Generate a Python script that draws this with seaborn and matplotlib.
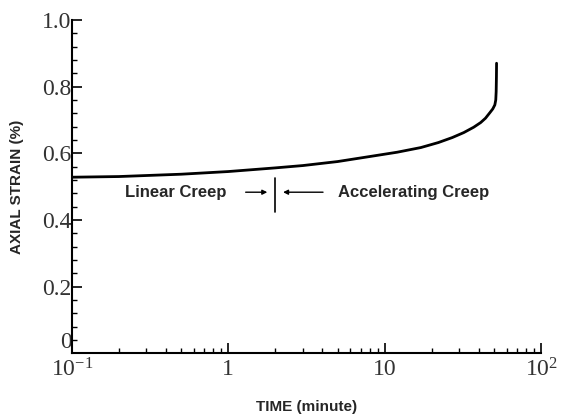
import matplotlib
matplotlib.use("Agg")
import matplotlib.pyplot as plt
import seaborn as sns
import pandas as pd
import numpy as np
from matplotlib.ticker import FixedLocator, LogLocator, NullFormatter

sns.set_theme(style="ticks")
plt.rcParams["mathtext.fontset"] = "custom"
plt.rcParams["mathtext.rm"] = "Liberation Serif"
plt.rcParams["mathtext.it"] = "Liberation Serif:italic"
plt.rcParams["mathtext.bf"] = "Liberation Serif:bold"

time_min = [0.1, 0.2, 0.5, 1.0, 2.0, 3.0, 5.0, 8.0, 12.0, 17.0, 22.0, 27.0, 32.0,
            37.0, 41.0, 44.0, 47.0, 49.0, 50.5, 51.2, 51.5, 51.7, 51.8]
axial_strain = [0.528, 0.530, 0.537, 0.545, 0.556, 0.563, 0.575, 0.590, 0.603, 0.617,
                0.632, 0.647, 0.662, 0.678, 0.692, 0.705, 0.722, 0.733, 0.745, 0.760,
                0.785, 0.830, 0.870]
x_ticks = [0.1, 1, 10, 100]
x_tick_labels = ["$\\mathregular{10^{-1}}$", "1", "10", "$\\mathregular{10^{2}}$"]
y_ticks = [0, 0.2, 0.4, 0.6, 0.8, 1.0]
y_tick_labels = ["0", "0.2", "0.4", "0.6", "0.8", "1.0"]
transition_time = 2.0

df = pd.DataFrame({"time": time_min, "strain": axial_strain})

fig = plt.figure(figsize=(5.65, 4.15), dpi=100)
ax = fig.add_axes([0.127, 0.149, 0.831, 0.803])
sns.lineplot(data=df, x="time", y="strain", ax=ax, color="black", linewidth=2.0)
ax.set_xscale("log")
ax.set_xlim(0.1, 100)
ax.set_ylim(0, 1.0)

serif = ["Liberation Serif", "DejaVu Serif"]
ax.set_xticks(x_ticks)
ax.set_xticklabels(x_tick_labels, fontfamily=serif, fontsize=17, color="#333333")
ax.xaxis.set_minor_locator(LogLocator(base=10, subs=np.arange(2, 10)))
ax.xaxis.set_minor_formatter(NullFormatter())
ax.set_yticks(y_ticks)
ax.set_yticklabels(y_tick_labels, fontfamily=serif, fontsize=17, color="#333333")
ax.yaxis.set_minor_locator(FixedLocator(np.arange(0, 1.0001, 0.04)))
ax.get_yticklabels()[0].set_verticalalignment("bottom")

ax.tick_params(which="major", direction="in", length=7, width=1.2, color="black")
ax.tick_params(axis="y", which="major", pad=0)
ax.tick_params(axis="x", which="major", pad=4)
ax.tick_params(which="minor", direction="in", length=3.5, width=1.0, color="black")
for s in ["top", "right"]:
    ax.spines[s].set_visible(False)
for s in ["left", "bottom"]:
    ax.spines[s].set_linewidth(1.5)
    ax.spines[s].set_color("black")

ax.set_xlabel("TIME (minute)", fontsize=11, fontweight="bold", fontfamily="Liberation Sans", labelpad=13)
ax.set_ylabel("AXIAL STRAIN (%)", fontsize=11, fontweight="bold", fontfamily="Liberation Sans", labelpad=13)

# annotations
ytxt = 0.483
ax.plot([transition_time, transition_time], [0.423, 0.525], color="black", lw=1.2)
ax.annotate("", xy=(1.85, ytxt), xytext=(1.24, ytxt),
            arrowprops=dict(arrowstyle="-|>", color="black", lw=1.0, mutation_scale=7))
ax.annotate("", xy=(2.15, ytxt), xytext=(4.2, ytxt),
            arrowprops=dict(arrowstyle="-|>", color="black", lw=1.0, mutation_scale=7))
ax.text(0.218, ytxt, "Linear Creep", fontsize=12, fontweight="bold", fontfamily="Liberation Sans",
        va="center", ha="left")
ax.text(5.0, ytxt, "Accelerating Creep", fontsize=12, fontweight="bold", fontfamily="Liberation Sans",
        va="center", ha="left")

fig.savefig("out.png", dpi=100)
